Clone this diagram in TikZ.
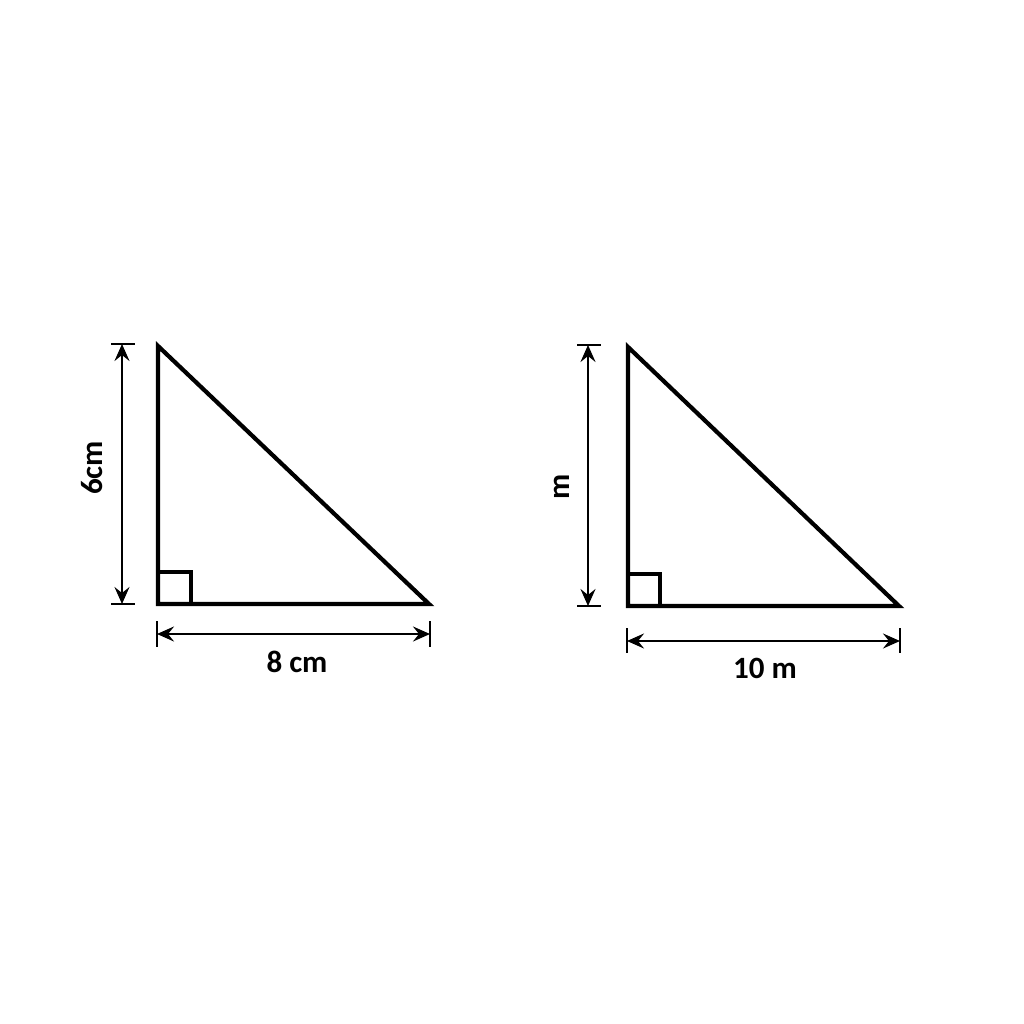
\documentclass[tikz,border=0pt]{standalone}
\usepackage{fontspec}
\setmainfont{Carlito}
\usetikzlibrary{arrows.meta}
\begin{document}
\begin{tikzpicture}[x=1pt,y=-1pt,
  tri/.style={line width=4.2pt,line join=miter},
  sq/.style={line width=3.4pt},
  dimline/.style={line width=2.3pt,{Stealth[length=17pt,width=15pt,inset=6pt]}-{Stealth[length=17pt,width=15pt,inset=6pt]}},
  tick/.style={line width=2.3pt},
  lbl/.style={font=\fontsize{31}{31}\selectfont\bfseries,inner sep=0pt}]
\fill[white] (0,0) rectangle (1024,1024);
\useasboundingbox (0,0) rectangle (1024,1024);
% left triangle
\coordinate (A1) at (158,346);
\coordinate (B1) at (158,604);
\coordinate (C1) at (429,604);
\draw[sq] (158,604) rectangle (191,572);
\draw[tri] (A1) -- (B1) -- (C1) -- cycle;
\coordinate (vt1a) at (111,344); \coordinate (vt1b) at (135,344);
\coordinate (vb1a) at (111,604); \coordinate (vb1b) at (135,604);
\draw[tick] (vt1a) -- (vt1b);
\draw[tick] (vb1a) -- (vb1b);
\coordinate (v1t) at (122,344); \coordinate (v1b) at (122,604);
\draw[dimline] (v1t) -- (v1b);
\coordinate (hl1a) at (157,621); \coordinate (hl1b) at (157,647);
\coordinate (hr1a) at (430,621); \coordinate (hr1b) at (430,647);
\draw[tick] (hl1a) -- (hl1b);
\draw[tick] (hr1a) -- (hr1b);
\coordinate (h1l) at (157,634); \coordinate (h1r) at (430,634);
\draw[dimline] (h1l) -- (h1r);
\node[lbl,rotate=90] (l6) at (92,468) {6cm};
\node[lbl] (l8) at (297,662) {8 cm};
% right triangle
\coordinate (A2) at (628,347);
\coordinate (B2) at (628,606);
\coordinate (C2) at (899,606);
\draw[sq] (628,606) rectangle (660,574);
\draw[tri] (A2) -- (B2) -- (C2) -- cycle;
\coordinate (vt2a) at (577,345); \coordinate (vt2b) at (601,345);
\coordinate (vb2a) at (577,606); \coordinate (vb2b) at (601,606);
\draw[tick] (vt2a) -- (vt2b);
\draw[tick] (vb2a) -- (vb2b);
\coordinate (v2t) at (588,345); \coordinate (v2b) at (588,606);
\draw[dimline] (v2t) -- (v2b);
\coordinate (hl2a) at (627,628); \coordinate (hl2b) at (627,653);
\coordinate (hr2a) at (900,628); \coordinate (hr2b) at (900,653);
\draw[tick] (hl2a) -- (hl2b);
\draw[tick] (hr2a) -- (hr2b);
\coordinate (h2l) at (627,641); \coordinate (h2r) at (900,641);
\draw[dimline] (h2l) -- (h2r);
\node[lbl,rotate=90] (lm) at (562,487) {m};
\node[lbl] (l10) at (765,668) {10 m};
\end{tikzpicture}
\end{document}
